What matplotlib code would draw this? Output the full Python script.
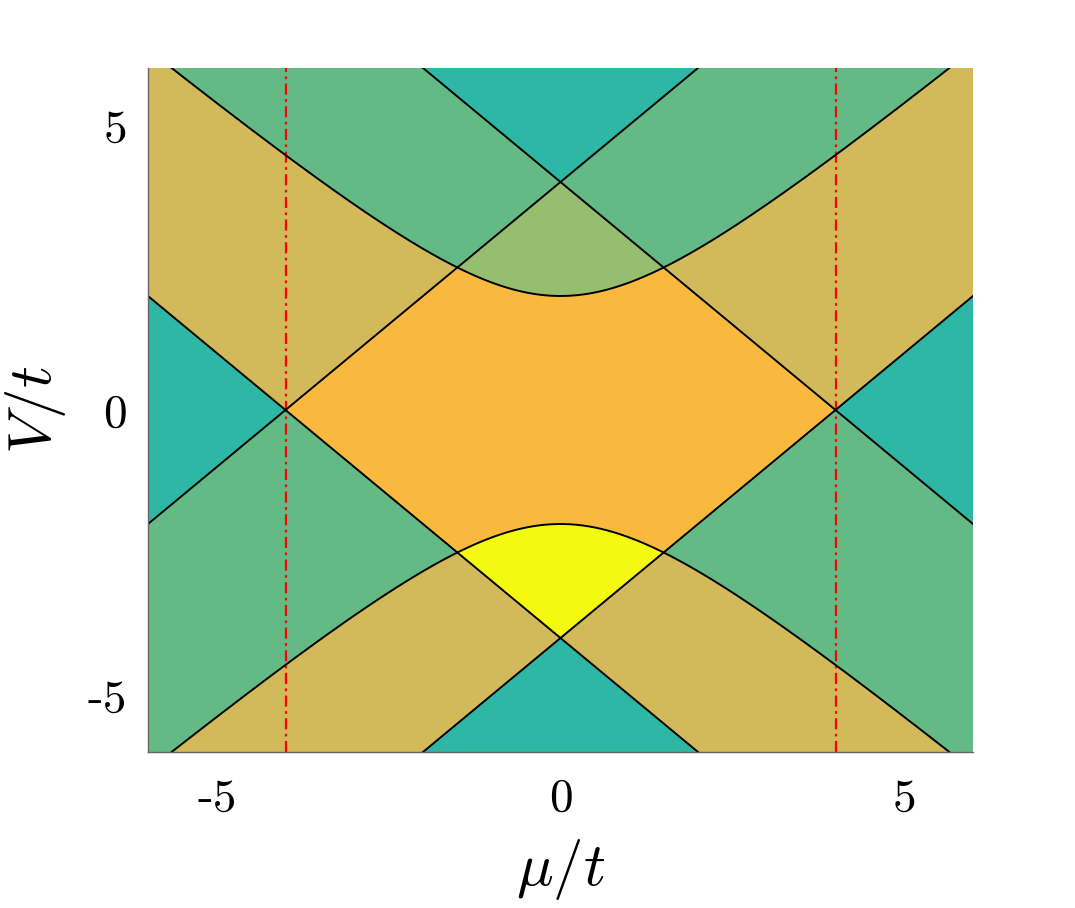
import numpy as np
import matplotlib
matplotlib.use("Agg")
import matplotlib.pyplot as plt
from matplotlib.colors import ListedColormap

plt.rcParams["mathtext.fontset"] = "cm"

# phase diagram parameters
mu_range = [-6, 6]
v_range = [-6, 6]
line_offset = 4.0      # straight boundaries V = +-mu +- 4
gap = 2.0              # hyperbolas V = +-sqrt(mu^2 + 2^2)
cut_mu = [-4, 4]       # red dash-dot cuts
xticks = [-5, 0, 5]
yticks = [-5, 0, 5]
tick_labels = ["-5", "0", "5"]

region_names = ["teal", "green", "lightgreen", "olive", "orange", "yellow"]
region_colors = ["#2db7a4", "#64ba84", "#97bd6e", "#d2b959", "#f9b93f", "#f5f90f"]

# classify the plane
mu = np.linspace(mu_range[0], mu_range[1], 1601)
vv = np.linspace(v_range[0], v_range[1], 1601)
M, V = np.meshgrid(mu, vv)
x = np.abs(M)
hyp = np.sqrt(x**2 + gap**2)

up1 = V > line_offset - x
up2 = V > line_offset + x
lo1 = V < x - line_offset
lo2 = V < -line_offset - x
above_h = V > hyp
below_h = V < -hyp

conds = [
    up2 | lo2 | (up1 & lo1),
    (up1 & ~up2 & above_h) | (~up1 & lo1 & ~below_h),
    ~up1 & above_h,
    (up1 & ~lo1 & ~above_h) | (lo1 & ~lo2 & below_h),
    ~up1 & ~lo1 & ~above_h & ~below_h,
    ~lo1 & below_h,
]
phase = np.select(conds, range(len(region_names)), default=4)

fig = plt.figure(figsize=(10.75, 9.08), dpi=100)
ax = fig.add_axes([148 / 1075, 1 - 752 / 908, 825 / 1075, 684 / 908])

ax.imshow(phase, origin="lower", extent=mu_range + v_range, aspect="auto",
          cmap=ListedColormap(region_colors), vmin=-0.5, vmax=len(region_names) - 0.5,
          interpolation="nearest", zorder=0)

for m in cut_mu:
    ax.axvline(m, color="red", lw=1.6, dashes=[5, 2, 1.2, 2], zorder=1)

line_mu = np.linspace(mu_range[0], mu_range[1], 400)
for s1 in (1, -1):
    for s2 in (1, -1):
        ax.plot(line_mu, s1 * line_mu + s2 * line_offset, color="black", lw=1.4, zorder=2)
    ax.plot(line_mu, s1 * np.sqrt(line_mu**2 + gap**2), color="black", lw=1.4, zorder=2)

ax.set_xlim(mu_range)
ax.set_ylim(v_range)
ax.set_xticks(xticks)
ax.set_yticks(yticks)
ax.set_xticklabels(tick_labels, fontfamily="cmr10", fontsize=34)
ax.set_yticklabels(tick_labels, fontfamily="cmr10", fontsize=34)
ax.tick_params(axis="x", length=0, pad=19)
ax.tick_params(axis="y", length=0, pad=15)

for side in ("top", "right"):
    ax.spines[side].set_visible(False)
for side in ("left", "bottom"):
    ax.spines[side].set_color("#666666")
    ax.spines[side].set_linewidth(1.0)

ax.set_xlabel(r"$\mu/t$", fontsize=44)
ax.set_ylabel(r"$V/t$", fontsize=44)
ax.xaxis.set_label_coords(0.5, -(870 - 752) / 684)
ax.xaxis.label.set_va("center")
ax.yaxis.set_label_coords(-(148 - 36) / 825, 0.5)
ax.yaxis.label.set_va("center")

fig.savefig("out.png", dpi=100)
